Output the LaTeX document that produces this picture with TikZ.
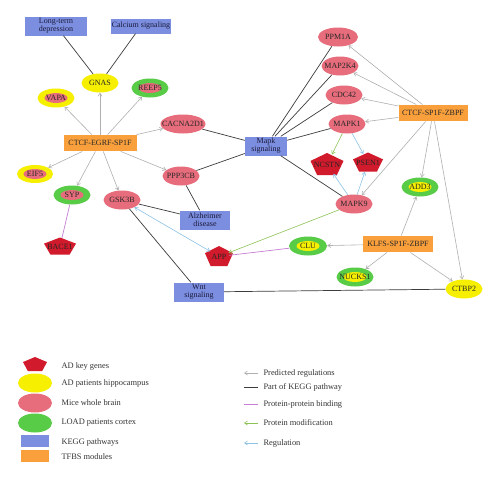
\documentclass[tikz,border=0pt]{standalone}
\usepackage{fontspec}
\setmainfont{Liberation Serif}
\usetikzlibrary{shapes.geometric,arrows.meta}
\definecolor{pinkc}{HTML}{E76D7C}
\definecolor{yelc}{HTML}{F6F000}
\definecolor{grnc}{HTML}{58CB47}
\definecolor{keggc}{HTML}{7C8EDF}
\definecolor{tfbsc}{HTML}{F9A03C}
\definecolor{pentc}{HTML}{D11A2B}
\definecolor{edgegray}{HTML}{B0B0B0}
\definecolor{edgeblack}{HTML}{3C3C3C}
\definecolor{edgepurple}{HTML}{C77DD6}
\definecolor{edgegreen}{HTML}{8DC255}
\definecolor{edgeblue}{HTML}{8EC3E6}
\definecolor{navytext}{HTML}{1A1A3A}
\newcommand\mypent[6]{%
  \fill[pentc] ({#2},{#3-#5/2}) -- ({#2+#4/2},{#3-0.14*#5}) -- ({#2+0.3*#4},{#3+#5/2})
     -- ({#2-0.3*#4},{#3+#5/2}) -- ({#2-#4/2},{#3-0.14*#5}) -- cycle;
  \node[circle, inner sep=-6pt, minimum size={#5*1pt}, text=black!85] (#1) at (#2,#3+0.5) {#6};}
\begin{document}
\begin{tikzpicture}[x=1pt,y=-1pt,
  every node/.style={font=\fontsize{8}{8.5}\selectfont, text=black!85},
  gene/.style={ellipse, inner xsep=-9pt, inner ysep=0pt, minimum width=37pt, minimum height=19pt, fill=#1},
  gene/.default=pinkc,
  dual/.style 2 args={ellipse, inner xsep=-9pt, inner ysep=0pt, minimum width=37pt, minimum height=19pt, fill=#1,
     path picture={\fill[#2] (path picture bounding box.center) ellipse (11.5pt and 5pt);}},
  kegg/.style={rectangle, fill=keggc, inner sep=0pt, align=center, text=navytext,
     font=\fontsize{8}{8}\selectfont},
  tfbs/.style={rectangle, fill=tfbsc, inner sep=0pt, minimum height=16.5pt},
  pred/.style={draw=edgegray, line width=0.6pt, -{Straight Barb[length=3pt,width=4pt]}},
  keggl/.style={draw=edgeblack, line width=0.7pt},
  ppb/.style={draw=edgepurple, line width=0.7pt},
  pmod/.style={draw=edgegreen, line width=0.6pt, -{Straight Barb[length=3pt,width=4pt]}},
  regl/.style={draw=edgeblue, line width=0.6pt, -{Straight Barb[length=3pt,width=4pt]}},
  legtext/.style={anchor=west, font=\fontsize{8.4}{9}\selectfont, text=black!80}
]
\useasboundingbox (0,0) rectangle (500,479);
\fill[white] (0,0) rectangle (500,479);

% KEGG pathways
\node[kegg, minimum width=62pt, minimum height=19pt] (ltd) at (56,26) {Long-term\\depression};
\node[kegg, minimum width=60pt, minimum height=15pt] (cal) at (141,26) {Calcium signaling};
\node[kegg, minimum width=42pt, minimum height=19pt] (mapk) at (266,146) {Mapk\\signaling};
\node[kegg, minimum width=50pt, minimum height=19pt] (alz) at (205,220) {Alzheimer\\disease};
\node[kegg, minimum width=50pt, minimum height=19pt] (wnt) at (199,292) {Wnt\\signaling};

% TFBS modules
\node[tfbs, minimum width=73pt] (tf1) at (100,143) {CTCF-EGRF-SP1F};
\node[tfbs, minimum width=69pt] (tf2) at (433,113) {CTCF-SP1F-ZBPF};
\node[tfbs, minimum width=70pt] (tf3) at (398,244) {KLFS-SP1F-ZBPF};

% genes
\node[gene=yelc] (gnas) at (100,83) {GNAS};
\node[dual={yelc}{pinkc}] (vapa) at (56,98) {VAPA};
\node[dual={grnc}{pinkc}] (reep5) at (150,88) {REEP5};
\node[gene, minimum width=45pt] (cacna) at (183,124) {CACNA2D1};
\node[dual={yelc}{pinkc}, minimum width=36pt, minimum height=18pt] (eif5) at (35,174) {EIF5};
\node[dual={grnc}{pinkc}] (syp) at (72,195) {SYP};
\node[gene] (gsk3b) at (122,200) {GSK3B};
\node[gene] (ppp3cb) at (181,176) {PPP3CB};
\node[gene, minimum width=40pt] (ppm1a) at (338,37) {PPM1A};
\node[gene] (map2k4) at (340,66) {MAP2K4};
\node[gene] (cdc42) at (344,95) {CDC42};
\node[gene] (mapk1) at (347,124) {MAPK1};
\node[gene] (mapk9) at (354,204) {MAPK9};
\node[dual={grnc}{yelc}] (add3) at (420,187) {ADD3};
\node[dual={grnc}{yelc}, minimum width=38pt] (clu) at (308,246) {CLU};
\node[dual={grnc}{yelc}] (nucks1) at (355,277) {NUCKS1};
\node[gene=yelc] (ctbp2) at (464,289) {CTBP2};

% AD key genes
\mypent{ncstn}{327}{164}{33}{22}{NCSTN}
\mypent{psen1}{368}{162}{30}{19}{PSEN1}
\mypent{bace1}{60}{246}{32}{17}{BACE1}
\mypent{app}{219}{256}{28}{20}{APP}

% KEGG edges
\draw[keggl] (ltd) -- (gnas);
\draw[keggl] (cal) -- (gnas);
\draw[keggl] (cacna) -- (mapk);
\draw[keggl] (ppp3cb) -- (mapk);
\draw[keggl] (ppp3cb) -- (alz);
\draw[keggl] (gsk3b) -- (alz);
\draw[keggl] (gsk3b) -- (wnt);
\draw[keggl] (mapk) -- (ppm1a);
\draw[keggl] (mapk) -- (map2k4);
\draw[keggl] (mapk) -- (cdc42);
\draw[keggl] (mapk) -- (mapk1);
\draw[keggl] (mapk) -- (mapk9);
\draw[keggl] (wnt) -- (ctbp2);

% predicted regulations
\foreach \t in {vapa,gnas,reep5,cacna,eif5,syp,gsk3b,ppp3cb}
  \draw[pred] (tf1) -- (\t);
\foreach \t in {ppm1a,map2k4,cdc42,mapk1,mapk9,add3,ctbp2}
  \draw[pred] (tf2) -- (\t);
\foreach \t in {add3,clu,nucks1,ctbp2}
  \draw[pred] (tf3) -- (\t);

% protein-protein binding
\draw[ppb] (syp) -- (bace1);
\draw[ppb] (clu) -- (app);

% protein modification
\draw[pmod] (mapk1) -- (ncstn);
\draw[pmod] (mapk9) -- (app);

% regulation
\draw[regl] (mapk1) -- (psen1);
\draw[regl] (mapk9) -- (ncstn);
\draw[regl] (mapk9) -- (psen1);
\draw[regl, {Straight Barb[length=3pt,width=4pt]}-{Straight Barb[length=3pt,width=4pt]}] (gsk3b) -- (app);

% legend, node types
\mypent{lgpent}{35}{364}{24}{14}{}
\node[ellipse, fill=yelc, minimum width=34pt, minimum height=19pt, inner sep=0pt] (lgyel) at (35,383) {};
\node[ellipse, fill=pinkc, minimum width=34pt, minimum height=19pt, inner sep=0pt] (lgpink) at (35,403) {};
\node[ellipse, fill=grnc, minimum width=34pt, minimum height=19pt, inner sep=0pt] (lggrn) at (35,423) {};
\node[rectangle, fill=keggc, minimum width=28pt, minimum height=12pt, inner sep=0pt] (lgkegg) at (35,441) {};
\node[rectangle, fill=tfbsc, minimum width=28pt, minimum height=12pt, inner sep=0pt] (lgtfbs) at (35,456) {};
\node[legtext] (t1) at (58,366) {AD key genes};
\node[legtext] (t2) at (58,383) {AD patients hippocampus};
\node[legtext] (t3) at (58,403) {Mice whole brain};
\node[legtext] (t4) at (58,423) {LOAD patients cortex};
\node[legtext] (t5) at (58,442) {KEGG pathways};
\node[legtext] (t6) at (58,457) {TFBS modules};

% legend, edge types
\coordinate (a1) at (244,373); \coordinate (b1) at (258,373);
\coordinate (a2) at (244,387); \coordinate (b2) at (258,387);
\coordinate (a3) at (244,404); \coordinate (b3) at (258,404);
\coordinate (a4) at (244,423); \coordinate (b4) at (258,423);
\coordinate (a5) at (244,443); \coordinate (b5) at (258,443);
\draw[pred] (b1) -- (a1);
\draw[keggl] (b2) -- (a2);
\draw[ppb] (b3) -- (a3);
\draw[pmod] (b4) -- (a4);
\draw[regl] (b5) -- (a5);
\node[legtext] (e1) at (260,373) {Predicted regulations};
\node[legtext] (e2) at (260,387) {Part of KEGG pathway};
\node[legtext] (e3) at (260,404) {Protein-protein binding};
\node[legtext] (e4) at (260,423) {Protein modification};
\node[legtext] (e5) at (260,443) {Regulation};
\end{tikzpicture}
\end{document}
